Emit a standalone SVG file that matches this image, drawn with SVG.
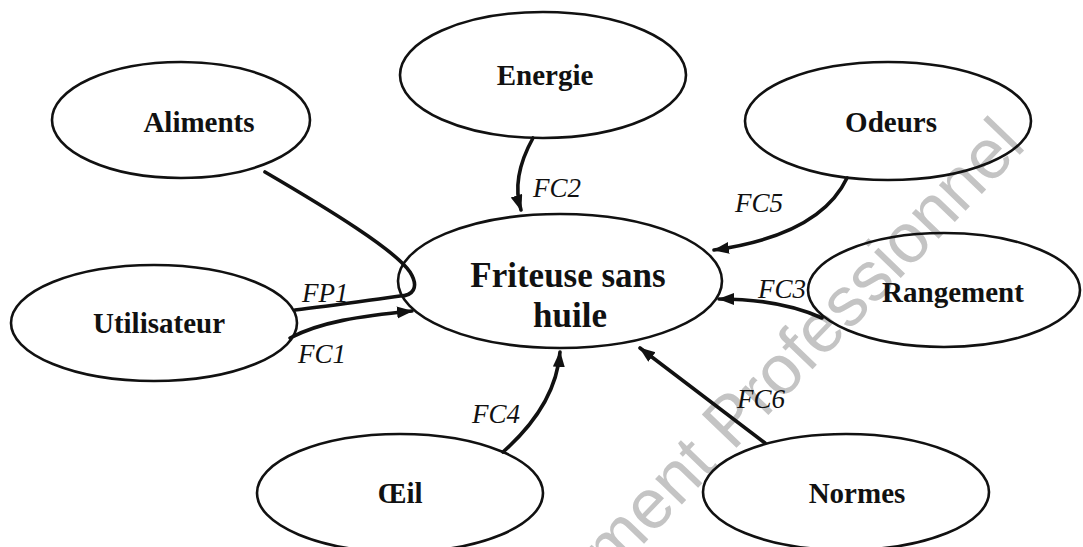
<svg xmlns="http://www.w3.org/2000/svg" width="1083" height="547" viewBox="0 0 1083 547">
<style>
.node{fill:none;stroke:#111;stroke-width:2.6}
.lbl{font-family:"Liberation Serif","Times New Roman",serif;font-weight:bold;font-size:29px;fill:#111;text-anchor:middle}
.main{font-size:35px}
.fc{font-family:"Liberation Serif","Times New Roman",serif;font-style:italic;font-size:27px;fill:#111}
.con{fill:none;stroke:#111;stroke-width:3.6;stroke-linecap:round}
.wm{font-family:"Liberation Sans",Arial,sans-serif;font-size:70px;fill:#c4c4c4}
</style>
<defs>
<marker id="ah" markerUnits="userSpaceOnUse" markerWidth="18" markerHeight="14" refX="15" refY="6" orient="auto">
<path d="M0,0 L16,6 L0,12 Z" fill="#111"/>
</marker>
</defs>
<rect width="1083" height="547" fill="#fff"/>
<text class="wm" transform="translate(611,578) rotate(-46)">ment Professionnel</text>
<g id="connectors">
<path class="con" d="M533,138 C518,165 514,188 521,210" marker-end="url(#ah)"/>
<path class="con" d="M847,178 Q820,235 714,250" marker-end="url(#ah)"/>
<path class="con" d="M822,318 Q780,299 719,299" marker-end="url(#ah)"/>
<path class="con" d="M765,443 L640,348" marker-end="url(#ah)"/>
<path class="con" d="M503,452 Q556,405 560,352" marker-end="url(#ah)"/>
<path class="con" d="M290,338 C320,322 360,316 412,311" marker-end="url(#ah)"/>
<path class="con" d="M265,172 C330,210 395,250 410,272 C420,288 412,296 400,296 C370,300 330,306 295,310"/>
<text class="fc" x="533" y="197">FC2</text>
<text class="fc" x="735" y="212">FC5</text>
<text class="fc" x="758" y="298">FC3</text>
<text class="fc" x="737" y="408">FC6</text>
<text class="fc" x="472" y="423">FC4</text>
<text class="fc" x="302" y="302">FP1</text>
<text class="fc" x="298" y="363">FC1</text>
</g>
<g id="center">
<ellipse class="node" cx="560" cy="281" rx="162" ry="67"/>
<text class="lbl main" x="568" y="287">Friteuse sans</text>
<text class="lbl main" x="570" y="327">huile</text>
</g>
<g id="aliments">
<ellipse class="node" cx="181" cy="120" rx="129" ry="58"/>
<text class="lbl" x="199" y="132">Aliments</text>
</g>
<g id="energie">
<ellipse class="node" cx="543" cy="75" rx="143" ry="63"/>
<text class="lbl" x="545" y="85">Energie</text>
</g>
<g id="odeurs">
<ellipse class="node" cx="888" cy="121" rx="143" ry="59"/>
<text class="lbl" x="891" y="132">Odeurs</text>
</g>
<g id="utilisateur">
<ellipse class="node" cx="154" cy="323" rx="143" ry="58"/>
<text class="lbl" x="159" y="333">Utilisateur</text>
</g>
<g id="rangement">
<ellipse class="node" cx="944" cy="290" rx="136" ry="57"/>
<text class="lbl" x="953" y="302">Rangement</text>
</g>
<g id="oeil">
<ellipse class="node" cx="400" cy="493" rx="143" ry="59"/>
<text class="lbl" x="400" y="503">Œil</text>
</g>
<g id="normes">
<ellipse class="node" cx="846" cy="492" rx="143" ry="58"/>
<text class="lbl" x="857" y="503">Normes</text>
</g>
</svg>
